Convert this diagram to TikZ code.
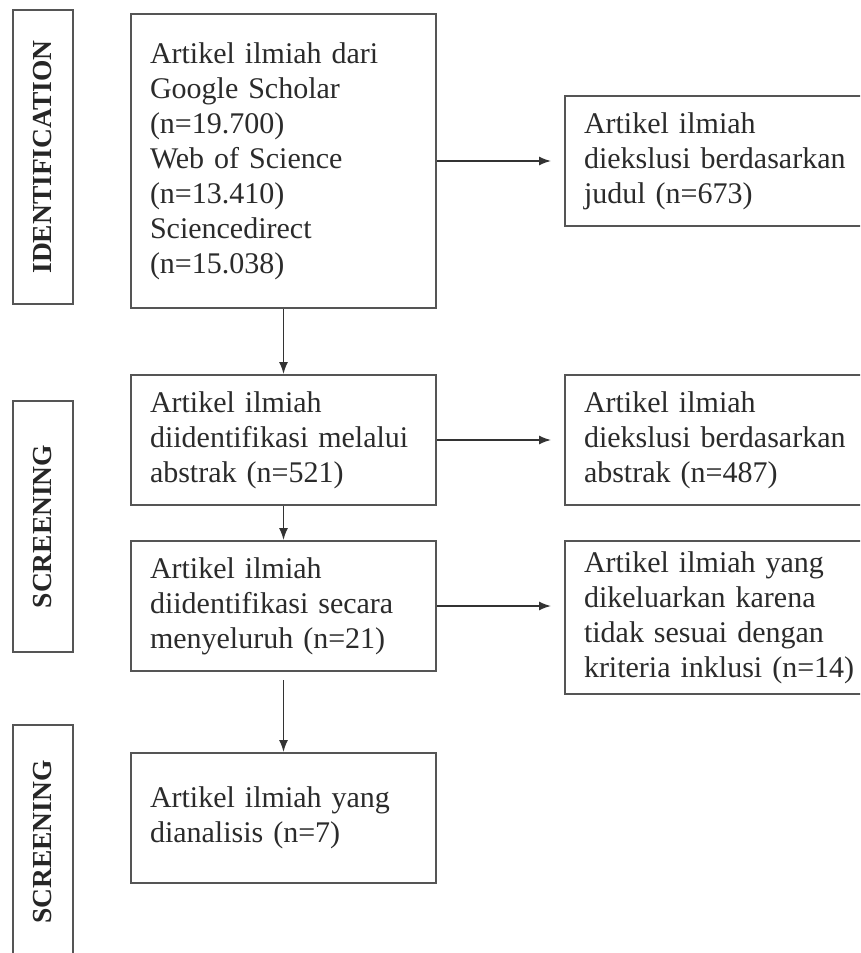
\documentclass[tikz,border=0pt]{standalone}
\usepackage{fontspec}
\setmainfont{Liberation Serif}
\usetikzlibrary{arrows.meta,positioning}
\definecolor{prline}{HTML}{555555}
\definecolor{prtext}{HTML}{2B2B2B}

\begin{document}
\begin{tikzpicture}[x=1pt, y=-1pt,
  node distance=34pt and 127pt,
  box/.style={draw=prline, line width=2pt, fill=white, align=left, text=prtext, font=\fontsize{30}{35}\selectfont, text width=267pt, inner xsep=19pt, inner ysep=0pt, minimum height=130pt},
  side/.style={box, text width=274pt},
  stage/.style={draw=prline, line width=2pt, rotate=90, minimum height=60pt, inner sep=0pt, text=black!85, font=\fontsize{27.5}{32}\selectfont\bfseries},
  line/.style={-{Latex[length=12pt,width=9pt]}, line width=1.5pt, black!80}
]
\useasboundingbox (0,0) rectangle (860,953);
\clip (0,0) rectangle (860,953);

\node[stage, minimum width=294pt] (ident) at (43,157) {IDENTIFICATION};
\node[stage, minimum width=251pt] (screen1) at (43,526.5) {SCREENING};
\node[stage, minimum width=234pt] (screen2) at (43,842) {SCREENING};

\node[box, minimum height=294pt] (found) at (283.5,161) {Artikel ilmiah dari\\Google Scholar\\(n=19.700)\\Web of Science\\(n=13.410)\\Sciencedirect\\(n=15.038)};
\node[box, below=65pt of found] (abstract) {Artikel ilmiah\\diidentifikasi melalui\\abstrak (n=521)};
\node[box, below=of abstract] (fulltext) {Artikel ilmiah\\diidentifikasi secara\\menyeluruh (n=21)};
\node[box, below=80pt of fulltext] (included) {Artikel ilmiah yang\\dianalisis (n=7)};

\node[side, right=of found] (exTitle) {Artikel ilmiah\\diekslusi berdasarkan\\judul (n=673)};
\node[side, right=of abstract] (exAbstract) {Artikel ilmiah\\diekslusi berdasarkan\\abstrak (n=487)};
\node[side, right=of fulltext.north east, anchor=north west, minimum height=153pt] (exCriteria) {Artikel ilmiah yang\\dikeluarkan karena\\tidak sesuai dengan\\kriteria inklusi (n=14)};

\draw[line] (found) -- (abstract);
\draw[line] (abstract) -- (fulltext);
\draw[line, shorten <=8pt] (fulltext) -- (included);
\draw[line, shorten >=13pt] (found) -- (exTitle);
\draw[line, shorten >=13pt] (abstract) -- (exAbstract);
\draw[line, shorten >=13pt] (fulltext.east) -- (fulltext.east -| exCriteria.west);
\end{tikzpicture}
\end{document}
